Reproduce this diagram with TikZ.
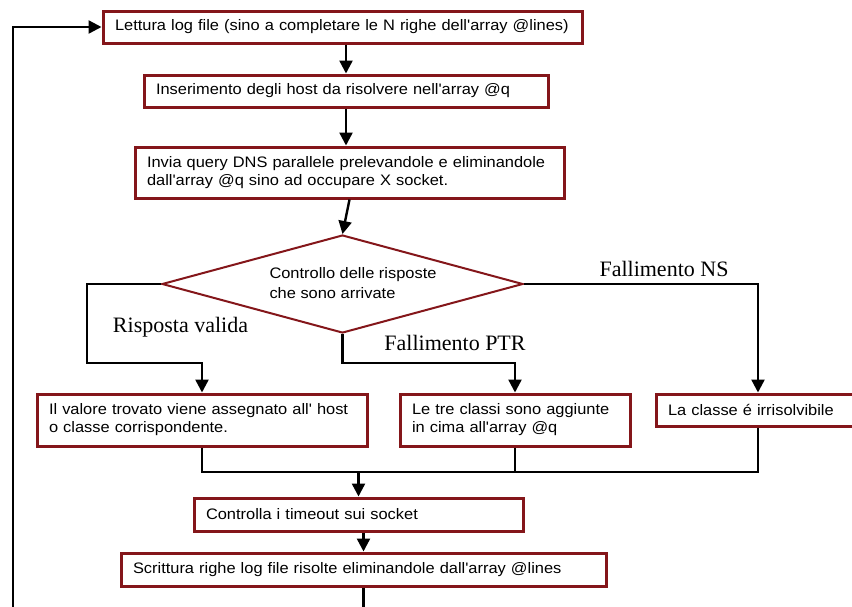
\documentclass[tikz,border=0pt]{standalone}
\usepackage{fontspec}
\usetikzlibrary{arrows.meta,shapes.geometric}
\newfontfamily\boxfont[FakeStretch=1.08]{Liberation Sans}
\newfontfamily\labelfont{Liberation Serif}
\definecolor{boxred}{RGB}{132,22,26}
\begin{document}
\begin{tikzpicture}[x=1pt,y=-1pt,
  proc/.style={draw=boxred, line width=3pt, fill=white,
    font=\boxfont\fontsize{15.2}{18}\selectfont,
    inner xsep=12pt, inner ysep=0pt, align=left, anchor=center},
  conn/.style={line width=2.4pt, black},
  arr/.style={conn, -{Triangle[length=13pt,width=13pt]}},
  lbl/.style={font=\labelfont\fontsize{22}{24}\selectfont, anchor=base, inner sep=0pt}]
\useasboundingbox (0,0) rectangle (852,606);
\fill[white] (0,0) rectangle (852,606);
\clip (0,0) rectangle (852,606);

\node[proc, text width=455pt, minimum height=32pt] (b1) at (342.5,27)
  {\mbox{Lettura log file (sino a completare le N righe dell'array @lines)}};
\node[proc, text width=380pt, minimum height=32pt] (b2) at (346,91)
  {\mbox{Inserimento degli host da risolvere nell'array @q}};
\node[proc, text width=405pt, minimum height=51pt] (b3) at (349.5,172.5)
  {\mbox{Invia query DNS parallele prelevandole e eliminandole}\\\mbox{dall'array @q sino ad occupare X socket.}};

\node[draw=boxred, line width=2pt, shape=diamond, aspect=3.68,
  minimum width=361pt, minimum height=98pt, inner sep=0pt] (d) at (342.5,284) {};
\node[font=\boxfont\fontsize{15.2}{20}\selectfont, align=left, inner sep=0pt] (dt) at (353,283)
  {Controllo delle risposte\\che sono arrivate};

\node[proc, text width=306pt, minimum height=52pt] (b4) at (202,420)
  {\mbox{Il valore trovato viene assegnato all' host}\\\mbox{o classe corrispondente.}};
\node[proc, text width=206pt, minimum height=52pt] (b5) at (515,420)
  {\mbox{Le tre classi sono aggiunte}\\\mbox{in cima all'array @q}};
\node[proc, text width=180pt, minimum height=32pt] (b6) at (758,410)
  {\mbox{La classe é irrisolvibile}};
\node[proc, text width=305pt, minimum height=33pt] (b7) at (358.5,514.5)
  {\mbox{Controlla i timeout sui socket}};
\node[proc, text width=461pt, minimum height=33pt] (b8) at (363.5,569.5)
  {\mbox{Scrittura righe log file risolte eliminandole dall'array @lines}};

\node[lbl] (l1) at (180.5,332) {Risposta valida};
\node[lbl] (l2) at (455,350) {Fallimento PTR};
\node[lbl] (l3) at (664,276) {Fallimento NS};

\coordinate (jl0) at (87,363);
\coordinate (jm) at (515,363);
\coordinate (mj) at (358.5,472);
\coordinate (lc) at (13,625);

\draw[arr] (b8.south) |- (lc) |- (b1.west);
\draw[arr] (b2.north |- b1.south) -- (b2.north);
\draw[arr] (b2.south) -- (b2.south |- b3.north);
\draw[arr] (b3.south) -- (d.north);
\draw[arr] (d.west) -| (jl0) -| (b4.north);
\draw[arr] (d.south) |- (jm) -- (b5.north);
\draw[arr] (d.east) -| (b6.north);
\draw[conn] (b4.south) |- (mj);
\draw[conn] (b6.south) |- (mj);
\draw[conn] (b5.south) -- (b5.south |- mj);
\draw[arr] (mj) -- (b7.north);
\draw[arr] (b8.north |- b7.south) -- (b8.north);
\end{tikzpicture}
\end{document}
